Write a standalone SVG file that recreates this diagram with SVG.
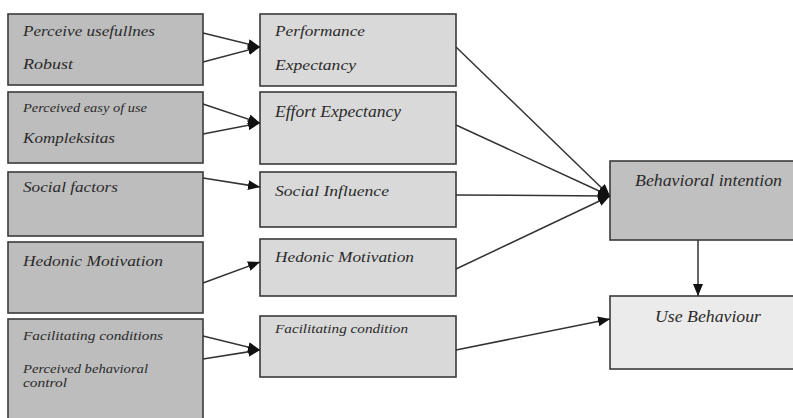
<svg xmlns="http://www.w3.org/2000/svg" width="793" height="418" viewBox="0 0 793 418">
<defs>
<marker id="ah" viewBox="0 0 12 10" refX="12" refY="5" markerWidth="12" markerHeight="10" markerUnits="userSpaceOnUse" orient="auto">
<path d="M0,0 L12,5 L0,10 Z" fill="#111"/>
</marker>
</defs>
<style>
rect{stroke:#3a3a3a;stroke-width:1.6}
.l{fill:#bdbdbd}
.m{fill:#d9d9d9}
.bi{fill:#c0c0c0}
.ub{fill:#ebebeb}
text{font-family:"Liberation Serif","Times New Roman",serif;font-style:italic;fill:#2a2a2a}
.c line{stroke:#333;stroke-width:1.5;marker-end:url(#ah)}
</style>
<rect x="0" y="0" width="793" height="418" fill="#fff" style="stroke:none"/>
<g id="n-perceive-usefulness">
<rect class="l" x="8" y="14" width="195" height="71"/>
<text x="23" y="36" font-size="14" textLength="132" lengthAdjust="spacingAndGlyphs">Perceive usefullnes</text>
<text x="23" y="69" font-size="14" textLength="50" lengthAdjust="spacingAndGlyphs">Robust</text>
</g>
<g id="n-perceived-ease">
<rect class="l" x="8" y="92" width="195" height="71"/>
<text x="23" y="112" font-size="12" textLength="124" lengthAdjust="spacingAndGlyphs">Perceived easy of use</text>
<text x="23" y="143" font-size="14" textLength="92" lengthAdjust="spacingAndGlyphs">Kompleksitas</text>
</g>
<g id="n-social-factors">
<rect class="l" x="8" y="172" width="195" height="64"/>
<text x="23" y="192" font-size="14" textLength="95" lengthAdjust="spacingAndGlyphs">Social factors</text>
</g>
<g id="n-hedonic-left">
<rect class="l" x="8" y="242" width="195" height="71"/>
<text x="23" y="266" font-size="15" textLength="140" lengthAdjust="spacingAndGlyphs">Hedonic Motivation</text>
</g>
<g id="n-facilitating-left">
<rect class="l" x="8" y="319" width="195" height="104"/>
<text x="23" y="340" font-size="13" textLength="140" lengthAdjust="spacingAndGlyphs">Facilitating conditions</text>
<text x="23" y="373" font-size="12" textLength="125" lengthAdjust="spacingAndGlyphs">Perceived behavioral</text>
<text x="23" y="387" font-size="12" textLength="44" lengthAdjust="spacingAndGlyphs">control</text>
</g>
<g id="n-performance">
<rect class="m" x="260" y="14" width="196" height="72"/>
<text x="275" y="36" font-size="14" textLength="90" lengthAdjust="spacingAndGlyphs">Performance</text>
<text x="275" y="70" font-size="14" textLength="81" lengthAdjust="spacingAndGlyphs">Expectancy</text>
</g>
<g id="n-effort">
<rect class="m" x="260" y="92" width="196" height="72"/>
<text x="275" y="117" font-size="16" textLength="126" lengthAdjust="spacingAndGlyphs">Effort Expectancy</text>
</g>
<g id="n-social-influence">
<rect class="m" x="260" y="172" width="196" height="55"/>
<text x="275" y="196" font-size="14" textLength="114" lengthAdjust="spacingAndGlyphs">Social Influence</text>
</g>
<g id="n-hedonic-mid">
<rect class="m" x="260" y="239" width="196" height="57"/>
<text x="275" y="262" font-size="15" textLength="139" lengthAdjust="spacingAndGlyphs">Hedonic Motivation</text>
</g>
<g id="n-facilitating-mid">
<rect class="m" x="260" y="316" width="196" height="61"/>
<text x="275" y="333" font-size="12" textLength="133" lengthAdjust="spacingAndGlyphs">Facilitating condition</text>
</g>
<g id="n-behavioral-intention">
<rect class="bi" x="610" y="161" width="190" height="79"/>
<text x="635" y="186" font-size="16" textLength="147" lengthAdjust="spacingAndGlyphs">Behavioral intention</text>
</g>
<g id="n-use-behaviour">
<rect class="ub" x="610" y="296" width="190" height="73"/>
<text x="655" y="322" font-size="17" textLength="106" lengthAdjust="spacingAndGlyphs">Use Behaviour</text>
</g>
<g id="connectors" class="c">
<line x1="203" y1="33" x2="260" y2="47"/>
<line x1="203" y1="62" x2="260" y2="47"/>
<line x1="203" y1="104" x2="260" y2="123"/>
<line x1="203" y1="134" x2="260" y2="123"/>
<line x1="203" y1="178" x2="260" y2="187"/>
<line x1="203" y1="283" x2="260" y2="262"/>
<line x1="203" y1="336" x2="260" y2="350"/>
<line x1="203" y1="359" x2="260" y2="350"/>
<line x1="456" y1="47" x2="610" y2="196"/>
<line x1="456" y1="125" x2="610" y2="196"/>
<line x1="456" y1="195" x2="610" y2="196"/>
<line x1="456" y1="269" x2="610" y2="196"/>
<line x1="456" y1="350" x2="610" y2="319"/>
<line x1="698" y1="240" x2="698" y2="296"/>
</g>
</svg>
